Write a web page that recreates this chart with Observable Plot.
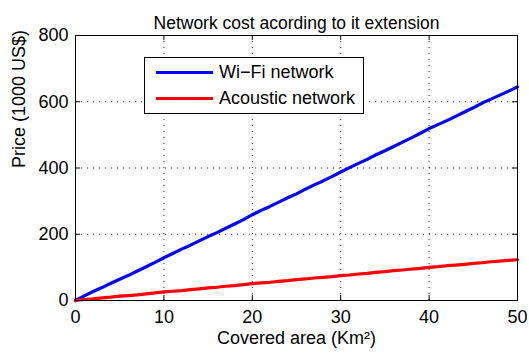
<!DOCTYPE html>
<html>
<head>
<meta charset="utf-8">
<script src="https://cdn.jsdelivr.net/npm/d3@7"></script>
<script src="https://cdn.jsdelivr.net/npm/@observablehq/plot@0.6"></script>
<style>
  html, body { margin: 0; padding: 0; background: #fff; }
  #wrap { position: relative; width: 529px; height: 356px; font-family: "Liberation Sans", Arial, sans-serif; }
  #legend { position: absolute; left: 144px; top: 57px; width: 220px; height: 57px; border: 1px solid #000; background: #fff; box-sizing: border-box; font-size: 18px; }
  .item { position: absolute; left: 11px; display: flex; align-items: center; height: 20px; }
  .swatch { width: 57px; height: 3px; margin-right: 6px; }
</style>
</head>
<body>
<div id="wrap"></div>
<script>
const title = "Network cost acording to it extension";
const xLabel = "Covered area (Km²)";
const yLabel = "Price (1000 US$)";
const area = d3.range(0, 51);
const wifi = [0, 14, 27, 39, 52, 64, 76, 89, 102, 115, 129, 142, 155, 167, 180, 193, 205, 218, 231, 244, 259, 272, 284, 297, 310, 322, 336, 349, 361, 374, 388, 401, 414, 426, 440, 452, 465, 478, 491, 505, 519, 531, 543, 556, 569, 582, 596, 608, 620, 632, 645];
const acoustic = [0, 3, 5, 8, 10, 13, 15, 17, 20, 23, 26, 28, 30, 33, 35, 38, 40, 43, 45, 48, 51, 53, 55, 58, 60, 63, 65, 68, 70, 72, 75, 77, 80, 82, 85, 87, 90, 92, 95, 97, 100, 102, 105, 107, 109, 112, 114, 117, 119, 121, 123];
const seriesNames = ["Wi\u2212Fi network", "Acoustic network"];
const seriesColors = ["#0000ff", "#ff0000"];
const xTicks = [0, 10, 20, 30, 40, 50];
const yTicks = [0, 200, 400, 600, 800];

const rows = [];
area.forEach((a, i) => {
  rows.push({area: a, price: wifi[i], series: seriesNames[0]});
  rows.push({area: a, price: acoustic[i], series: seriesNames[1]});
});

const chart = Plot.plot({
  width: 529,
  height: 356,
  marginLeft: 75,
  marginRight: 12,
  marginTop: 35,
  marginBottom: 56,
  style: {fontFamily: "Liberation Sans, Arial, sans-serif", fontSize: "18px", background: "#fff", color: "#000"},
  x: {domain: [0, 50], ticks: xTicks},
  y: {domain: [0, 800], ticks: yTicks},
  color: {domain: seriesNames, range: seriesColors},
  marks: [
    Plot.gridX(xTicks, {stroke: "#000", strokeOpacity: 0.8, strokeDasharray: "1,5"}),
    Plot.gridY(yTicks, {stroke: "#000", strokeOpacity: 0.8, strokeDasharray: "1,5"}),
    Plot.ruleX(xTicks, {y1: 0, y2: 15, stroke: "#000"}),
    Plot.ruleX(xTicks, {y1: 785, y2: 800, stroke: "#000"}),
    Plot.ruleY(yTicks, {x1: 0, x2: 0.57, stroke: "#000"}),
    Plot.ruleY(yTicks, {x1: 49.43, x2: 50, stroke: "#000"}),
    Plot.line(rows, {x: "area", y: "price", z: "series", stroke: "series", strokeWidth: 3.2}),
    Plot.frame({stroke: "#000"}),
    Plot.axisX(xTicks, {tickSize: 0, tickPadding: 10, fontSize: 18, label: null}),
    Plot.axisY(yTicks, {tickSize: 0, tickPadding: 7, fontSize: 18, label: null}),
    Plot.text([title], {frameAnchor: "top", dy: -19, fontSize: 17.5}),
    Plot.text([xLabel], {frameAnchor: "bottom", dy: 43, fontSize: 18}),
    Plot.text([yLabel], {frameAnchor: "left", dx: -56, rotate: -90, fontSize: 18})
  ]
});

const wrap = document.getElementById("wrap");
wrap.appendChild(chart);
const legend = document.createElement("div");
legend.id = "legend";
seriesNames.forEach((name, i) => {
  const item = document.createElement("div");
  item.className = "item";
  item.style.top = (i === 0 ? 4 : 30) + "px";
  const sw = document.createElement("div");
  sw.className = "swatch";
  sw.style.background = seriesColors[i];
  const t = document.createElement("span");
  t.textContent = name;
  item.appendChild(sw);
  item.appendChild(t);
  legend.appendChild(item);
});
wrap.appendChild(legend);
</script>
</body>
</html>
